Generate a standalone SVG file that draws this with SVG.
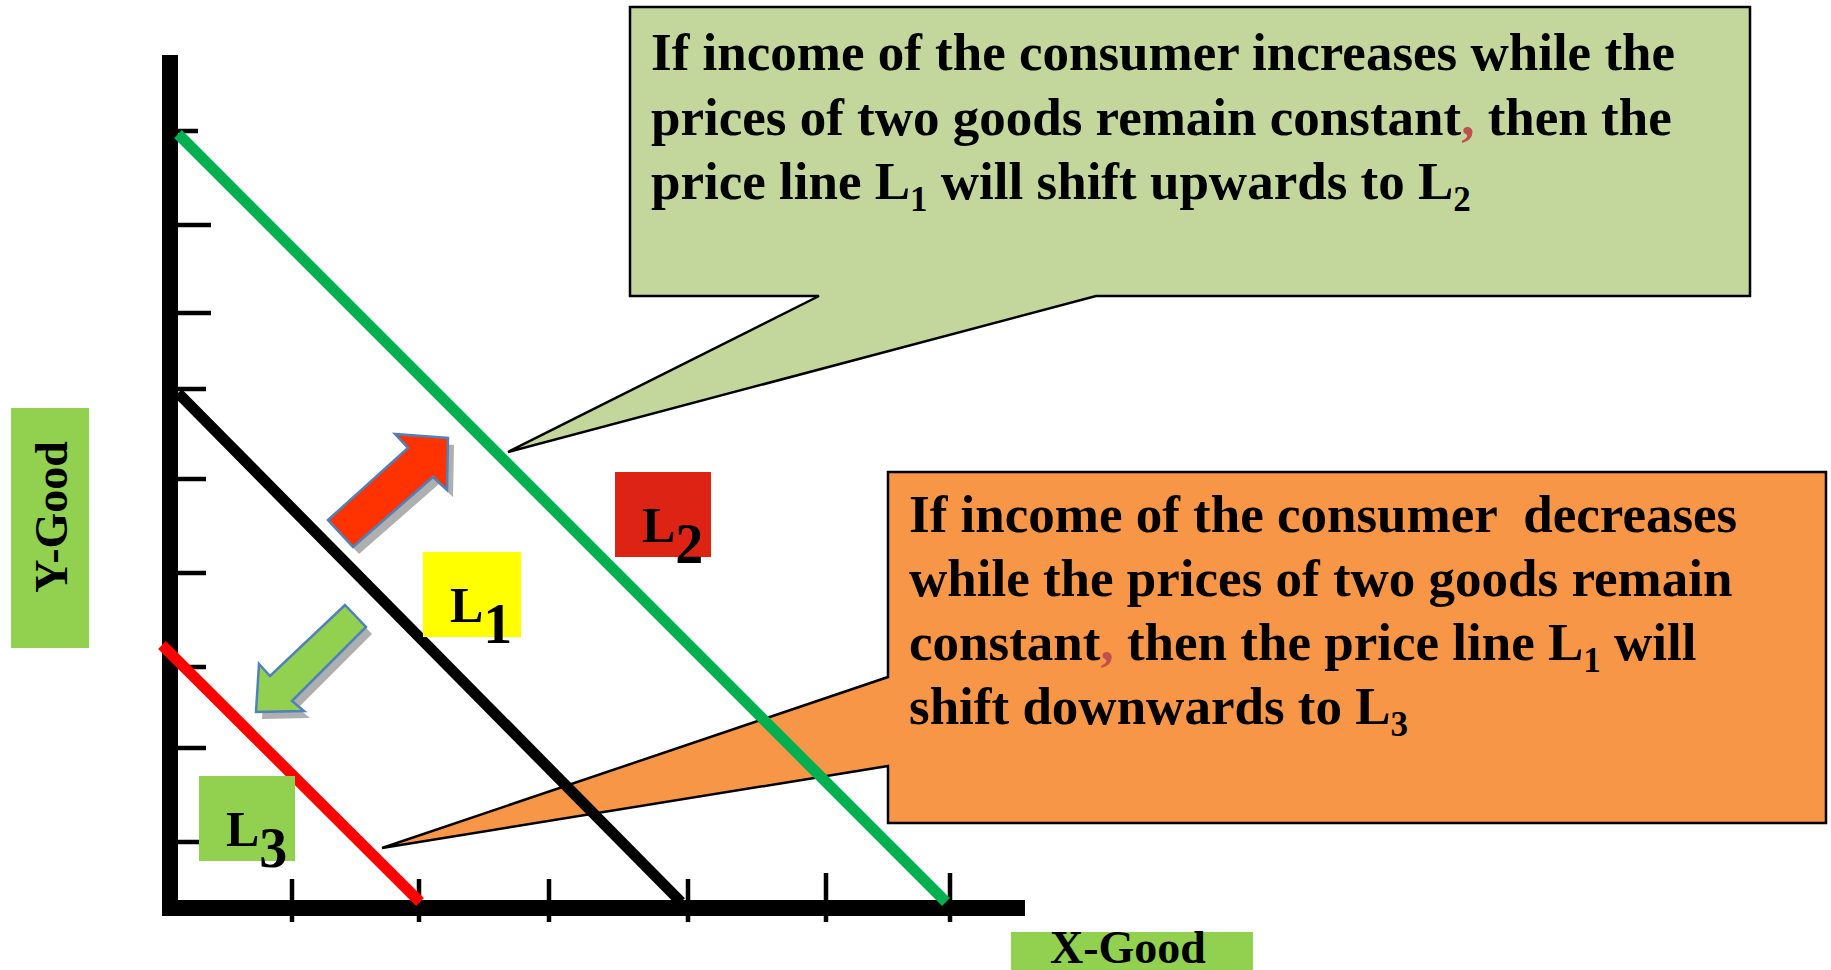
<svg xmlns="http://www.w3.org/2000/svg" xmlns:xlink="http://www.w3.org/1999/xlink" width="1831" height="970" viewBox="0 0 1831 970">
<style>
.t{font-family:"Liberation Serif","Times New Roman",serif;font-weight:bold;fill:#000}
.big{font-size:53px}
.sub{font-size:35px}
.lab{font-size:50px}
.ax{font-size:46px}
.tick{stroke:#000;stroke-width:4.5}
.callout{stroke:#000;stroke-width:2.5;stroke-linejoin:miter}
.arrow{stroke:#4F81BD;stroke-width:2.5;stroke-linejoin:miter}
.shadow{fill:#A6A6A6;opacity:0.9}
.comma{fill:#C0504D}
</style>
<defs>
<polygon id="upArrow" points="328,520 408,448 395,434 448,438 447,490 433,477 353,547"/>
<polygon id="downArrow" points="345,605 366,627 292,701 304,711 256,712 259,664 270,676"/>
</defs>
<rect width="1831" height="970" fill="#fff"/>

<g id="callout-increase">
<path class="callout" fill="#C3D69B" d="M630,7 H1750 V296 H1096 L508,452 L819,296 H630 Z"/>
<text class="t big" x="651" y="70">If income of the consumer increases while the</text>
<text class="t big" x="651" y="135">prices of two goods remain constant<tspan class="comma">,</tspan> then the</text>
<text class="t big" x="651" y="199">price line L<tspan class="sub" dy="12">1</tspan><tspan dy="-12"> will shift upwards to L</tspan><tspan class="sub" dy="12">2</tspan></text>
</g>

<g id="callout-decrease">
<path class="callout" fill="#F79646" d="M888,472 H1826 V823 H888 V766 L382,848 L888,677 Z"/>
<text class="t big" x="909" y="532" xml:space="preserve">If income of the consumer  decreases</text>
<text class="t big" x="909" y="596">while the prices of two goods remain</text>
<text class="t big" x="909" y="660">constant<tspan class="comma">,</tspan> then the price line L<tspan class="sub" dy="12">1</tspan><tspan dy="-12"> will</tspan></text>
<text class="t big" x="909" y="724">shift downwards to L<tspan class="sub" dy="12">3</tspan></text>
</g>

<g id="axes">
<line x1="170" y1="55" x2="170" y2="916" stroke="#000" stroke-width="16"/>
<line x1="162" y1="908" x2="1025" y2="908" stroke="#000" stroke-width="16"/>
<line class="tick" x1="178" y1="131" x2="198" y2="131"/>
<line class="tick" x1="178" y1="225" x2="211" y2="225"/>
<line class="tick" x1="178" y1="313" x2="211" y2="313"/>
<line class="tick" x1="178" y1="389" x2="206" y2="389"/>
<line class="tick" x1="178" y1="479" x2="206" y2="479"/>
<line class="tick" x1="178" y1="573" x2="206" y2="573"/>
<line class="tick" x1="178" y1="667" x2="206" y2="667"/>
<line class="tick" x1="178" y1="748" x2="206" y2="748"/>
<line class="tick" x1="178" y1="842" x2="206" y2="842"/>
<line class="tick" x1="292" y1="879" x2="292" y2="922"/>
<line class="tick" x1="419" y1="879" x2="419" y2="922"/>
<line class="tick" x1="549" y1="879" x2="549" y2="922"/>
<line class="tick" x1="688" y1="879" x2="688" y2="922"/>
<line class="tick" x1="826" y1="873" x2="826" y2="922"/>
<line class="tick" x1="950" y1="873" x2="950" y2="922"/>
</g>

<g id="connectors">
<line id="line-L2" x1="178" y1="134" x2="946" y2="902" stroke="#00B050" stroke-width="11"/>
<line id="line-L1" x1="178" y1="393" x2="681" y2="902" stroke="#000" stroke-width="11"/>
<line id="line-L3" x1="162" y1="645" x2="420" y2="902" stroke="#FF0000" stroke-width="11"/>
</g>

<g id="arrow-up">
<use xlink:href="#upArrow" class="shadow" transform="translate(6,7)"/>
<use xlink:href="#upArrow" class="arrow" fill="#FF3300"/>
</g>
<g id="arrow-down">
<use xlink:href="#downArrow" class="shadow" transform="translate(6,7)"/>
<use xlink:href="#downArrow" class="arrow" fill="#92D050"/>
</g>

<g id="label-L1">
<rect x="423" y="552" width="98" height="85" fill="#FFFF00"/>
<text class="t" x="450" y="622" font-size="50">L<tspan font-size="58" dy="21">1</tspan></text>
</g>
<g id="label-L2">
<rect x="615" y="472" width="96" height="85" fill="#DC2314"/>
<text class="t" x="642" y="542" font-size="50">L<tspan font-size="56" dy="21">2</tspan></text>
</g>
<g id="label-L3">
<rect x="199" y="776" width="96" height="85" fill="#92D050"/>
<text class="t" x="226" y="846" font-size="50">L<tspan font-size="56" dy="21">3</tspan></text>
</g>

<g id="label-y">
<rect x="11" y="408" width="78" height="240" fill="#92D050"/>
<text class="t ax" text-anchor="middle" transform="translate(67,517) rotate(-90)">Y-Good</text>
</g>
<g id="label-x">
<rect x="1011" y="932" width="242" height="38" fill="#92D050"/>
<text class="t ax" x="1128" y="963" text-anchor="middle">X-Good</text>
</g>
</svg>
